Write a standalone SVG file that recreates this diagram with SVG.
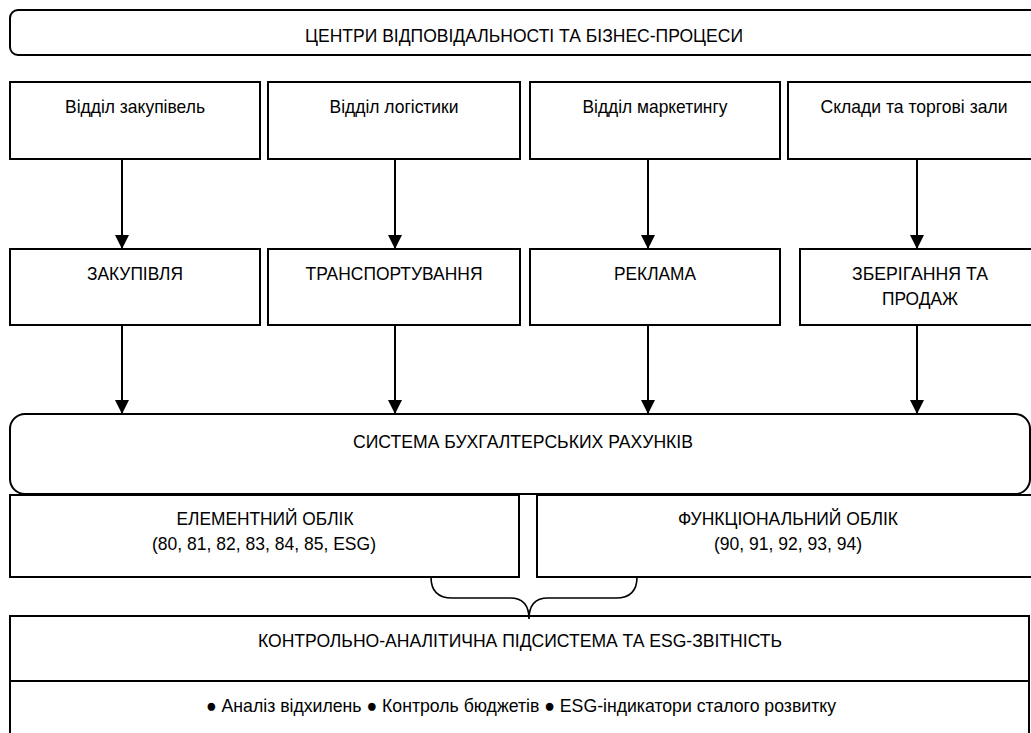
<svg xmlns="http://www.w3.org/2000/svg" width="1031" height="733" viewBox="0 0 1031 733">
<defs>
<style>
.b{fill:#fff;stroke:#000;stroke-width:2}
.t{font-family:"Liberation Sans",Arial,sans-serif;font-size:19px;fill:#000;text-anchor:middle}
.c{fill:none;stroke:#000;stroke-width:2}
.br{fill:none;stroke:#000;stroke-width:1.6}
</style>
<marker id="ah" viewBox="0 0 14 14" refX="14" refY="7" markerWidth="14" markerHeight="14" markerUnits="userSpaceOnUse" orient="auto">
<path d="M0,0 L14,7 L0,14 Z" fill="#000"/>
</marker>
</defs>
<rect width="1031" height="733" fill="#fff"/>
<g id="title"><rect class="b" x="10" y="10" width="1032" height="45" rx="8"/><text class="t" x="524" y="42" textLength="438" lengthAdjust="spacingAndGlyphs">ЦЕНТРИ ВІДПОВІДАЛЬНОСТІ ТА БІЗНЕС-ПРОЦЕСИ</text></g>
<g id="dep1"><rect class="b" x="10" y="82" width="250" height="77"/><text class="t" x="135" y="113" textLength="140" lengthAdjust="spacingAndGlyphs">Відділ закупівель</text></g>
<g id="dep2"><rect class="b" x="268" y="82" width="252" height="77"/><text class="t" x="394" y="113" textLength="129" lengthAdjust="spacingAndGlyphs">Відділ логістики</text></g>
<g id="dep3"><rect class="b" x="530" y="82" width="250" height="77"/><text class="t" x="655" y="113" textLength="145" lengthAdjust="spacingAndGlyphs">Відділ маркетингу</text></g>
<g id="dep4"><rect class="b" x="788" y="82" width="254" height="77"/><text class="t" x="914" y="113" textLength="187" lengthAdjust="spacingAndGlyphs">Склади та торгові зали</text></g>
<g id="proc1"><rect class="b" x="10" y="249" width="250" height="76"/><text class="t" x="135" y="280" textLength="96" lengthAdjust="spacingAndGlyphs">ЗАКУПІВЛЯ</text></g>
<g id="proc2"><rect class="b" x="268" y="249" width="252" height="76"/><text class="t" x="394" y="280" textLength="177" lengthAdjust="spacingAndGlyphs">ТРАНСПОРТУВАННЯ</text></g>
<g id="proc3"><rect class="b" x="530" y="249" width="250" height="76"/><text class="t" x="655" y="280" textLength="82" lengthAdjust="spacingAndGlyphs">РЕКЛАМА</text></g>
<g id="proc4"><rect class="b" x="800" y="249" width="242" height="76"/><text class="t" x="920" y="280" textLength="136" lengthAdjust="spacingAndGlyphs">ЗБЕРІГАННЯ ТА</text><text class="t" x="920" y="305" textLength="76" lengthAdjust="spacingAndGlyphs">ПРОДАЖ</text></g>
<g id="system"><rect class="b" x="10" y="414" width="1020" height="80" rx="15"/><text class="t" x="523" y="448" textLength="340" lengthAdjust="spacingAndGlyphs">СИСТЕМА БУХГАЛТЕРСЬКИХ РАХУНКІВ</text></g>
<g id="elem"><rect class="b" x="10" y="495" width="509" height="82"/><text class="t" x="265" y="525" textLength="177" lengthAdjust="spacingAndGlyphs">ЕЛЕМЕНТНИЙ ОБЛІК</text><text class="t" x="264" y="550" textLength="224" lengthAdjust="spacingAndGlyphs">(80, 81, 82, 83, 84, 85, ESG)</text></g>
<g id="func"><rect class="b" x="537" y="495" width="505" height="82"/><text class="t" x="788" y="525" textLength="220" lengthAdjust="spacingAndGlyphs">ФУНКЦІОНАЛЬНИЙ ОБЛІК</text><text class="t" x="788" y="550" textLength="148" lengthAdjust="spacingAndGlyphs">(90, 91, 92, 93, 94)</text></g>
<g id="control"><rect class="b" x="10" y="616" width="1019" height="130"/><line class="c" x1="10" y1="681" x2="1029" y2="681"/><text class="t" x="520" y="647" textLength="524" lengthAdjust="spacingAndGlyphs">КОНТРОЛЬНО-АНАЛІТИЧНА ПІДСИСТЕМА ТА ESG-ЗВІТНІСТЬ</text><text class="t" x="521" y="712" textLength="630" lengthAdjust="spacingAndGlyphs">● Аналіз відхилень ● Контроль бюджетів ● ESG-індикатори сталого розвитку</text></g>
<g id="connectors">
<line class="c" x1="122" y1="159" x2="122" y2="249" marker-end="url(#ah)"/>
<line class="c" x1="395" y1="159" x2="395" y2="249" marker-end="url(#ah)"/>
<line class="c" x1="648" y1="159" x2="648" y2="249" marker-end="url(#ah)"/>
<line class="c" x1="917" y1="159" x2="917" y2="249" marker-end="url(#ah)"/>
<line class="c" x1="122" y1="325" x2="122" y2="414" marker-end="url(#ah)"/>
<line class="c" x1="395" y1="325" x2="395" y2="414" marker-end="url(#ah)"/>
<line class="c" x1="648" y1="325" x2="648" y2="414" marker-end="url(#ah)"/>
<line class="c" x1="917" y1="325" x2="917" y2="414" marker-end="url(#ah)"/>
<path class="br" d="M431,577 Q431,598 452,598 L510,598 Q529,598 529,619 Q529,598 548,598 L616,598 Q637,598 637,577"/>
</g>
</svg>
